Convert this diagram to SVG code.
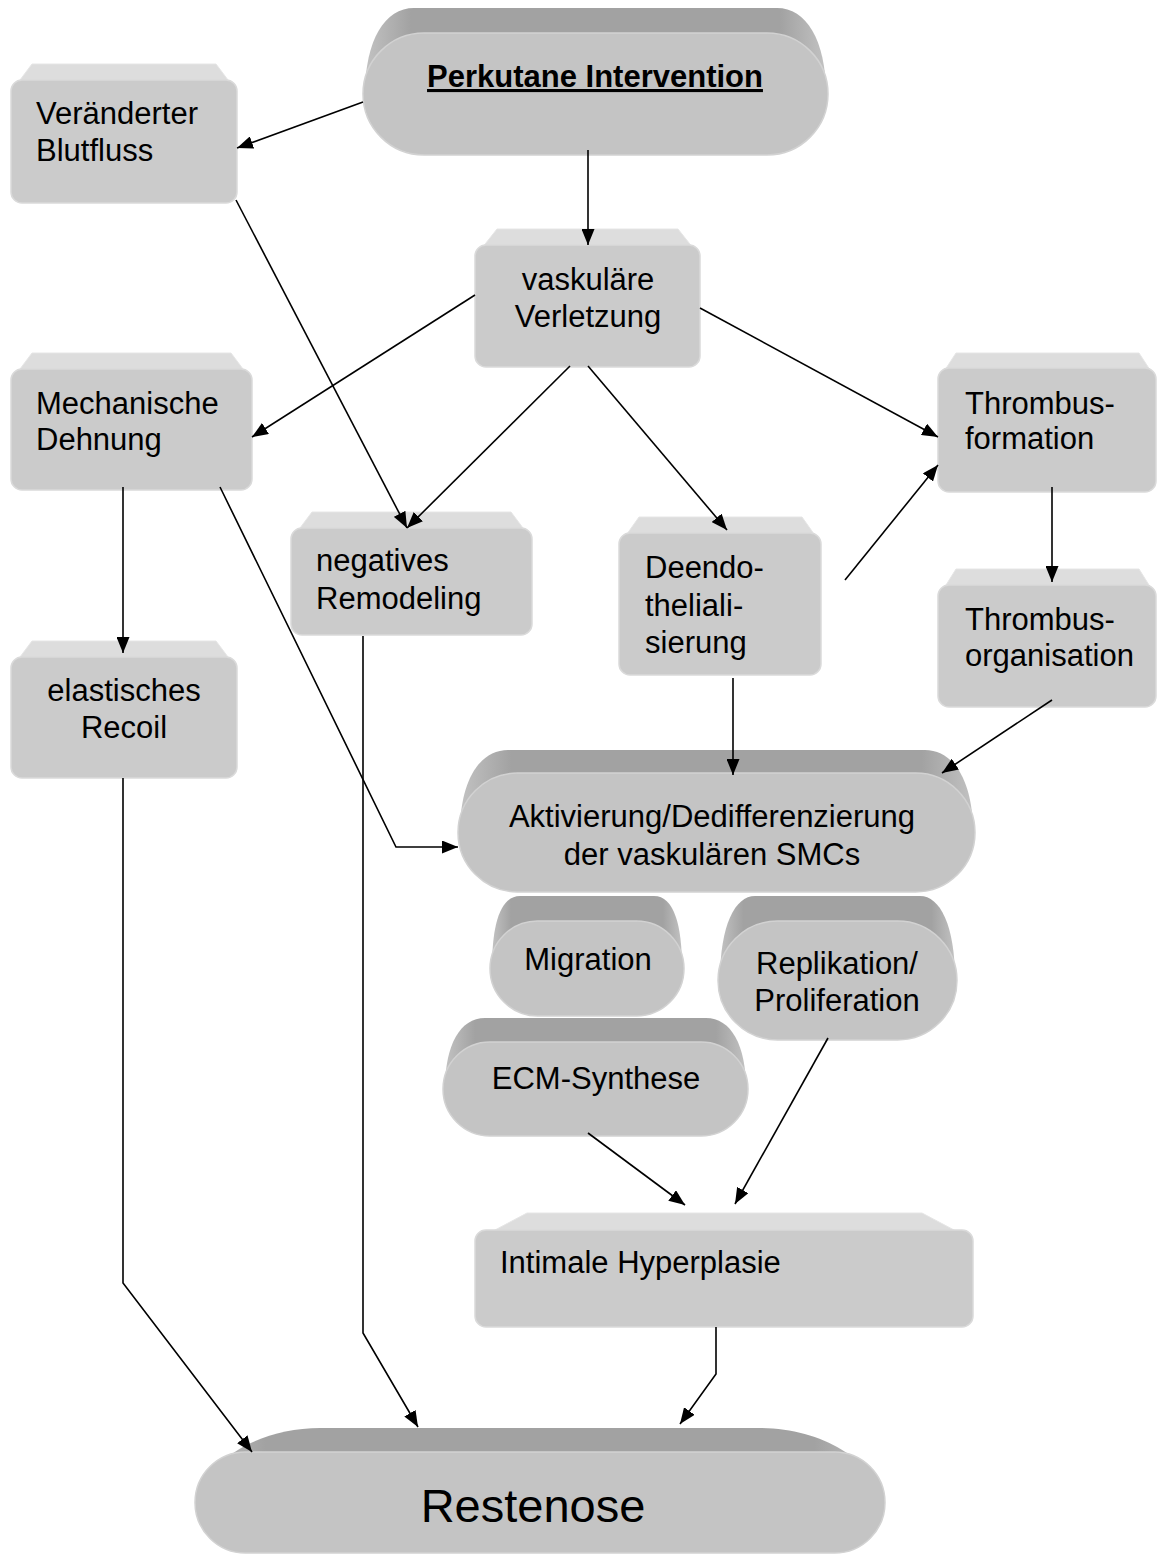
<svg xmlns="http://www.w3.org/2000/svg" width="1158" height="1556" viewBox="0 0 1158 1556">
<style>
.t{font-family:"Liberation Sans",Arial,sans-serif;font-size:31px;fill:#000}
.m{text-anchor:middle}
.big{font-size:47px}
.bev{fill:#dddddd;stroke:#e6e6e6;stroke-width:1}
.box{fill:#cbcbcb;stroke:#dadada;stroke-width:1.5}
.back{fill:url(#bg)}
.front{fill:#c4c4c4;stroke:#d2d2d2;stroke-width:1.5}
.c{fill:none;stroke:#000;stroke-width:1.6;marker-end:url(#ah)}
</style>
<defs>
<linearGradient id="bg" x1="0" y1="0" x2="1" y2="0">
<stop offset="0" stop-color="#c2c2c2"/>
<stop offset="0.1" stop-color="#a2a2a2"/>
<stop offset="0.9" stop-color="#a2a2a2"/>
<stop offset="1" stop-color="#c2c2c2"/>
</linearGradient>
<marker id="ah" markerWidth="16" markerHeight="13" refX="16" refY="6.5" orient="auto" markerUnits="userSpaceOnUse">
<path d="M0,0 L16,6.5 L0,13 z" fill="#000"/>
</marker>
</defs>
<rect width="1158" height="1556" fill="#fff"/>

<g id="perkutane">
<path class="back" d="M365,94 C365,40 385,8 414,8 L777,8 C806,8 826,40 826,94 Z"/>
<rect class="front" x="363" y="33" width="465" height="122" rx="61"/>
<text class="t m" x="595" y="87" font-weight="bold" text-decoration="underline">Perkutane Intervention</text>
</g>

<g id="blutfluss">
<path class="bev" d="M14,88 L32,64 L216,64 L234,88 Z"/>
<rect class="box" x="11" y="80" width="226" height="123" rx="11"/>
<text class="t" x="36" y="124">Veränderter</text>
<text class="t" x="36" y="161">Blutfluss</text>
</g>

<g id="verletzung">
<path class="bev" d="M478,253 L497,229 L678,229 L697,253 Z"/>
<rect class="box" x="475" y="245" width="225" height="122" rx="11"/>
<text class="t m" x="588" y="290">vaskuläre</text>
<text class="t m" x="588" y="327">Verletzung</text>
</g>

<g id="dehnung">
<path class="bev" d="M14,377 L32,353 L231,353 L249,377 Z"/>
<rect class="box" x="11" y="369" width="241" height="121" rx="11"/>
<text class="t" x="36" y="414">Mechanische</text>
<text class="t" x="36" y="450">Dehnung</text>
</g>

<g id="thrombusformation">
<path class="bev" d="M941,376 L956,353 L1139,353 L1154,376 Z"/>
<rect class="box" x="938" y="368" width="218" height="124" rx="11"/>
<text class="t" x="965" y="414">Thrombus-</text>
<text class="t" x="965" y="449">formation</text>
</g>

<g id="thrombusorganisation">
<path class="bev" d="M941,593 L956,569 L1139,569 L1154,593 Z"/>
<rect class="box" x="938" y="585" width="218" height="122" rx="11"/>
<text class="t" x="965" y="630">Thrombus-</text>
<text class="t" x="965" y="666">organisation</text>
</g>

<g id="remodeling">
<path class="bev" d="M294,536 L312,512 L511,512 L529,536 Z"/>
<rect class="box" x="291" y="528" width="241" height="107" rx="11"/>
<text class="t" x="316" y="571">negatives</text>
<text class="t" x="316" y="609">Remodeling</text>
</g>

<g id="deendothelialisierung">
<path class="bev" d="M622,541 L639,517 L802,517 L819,541 Z"/>
<rect class="box" x="619" y="533" width="202" height="142" rx="11"/>
<text class="t" x="645" y="578">Deendo-</text>
<text class="t" x="645" y="616">theliali-</text>
<text class="t" x="645" y="653">sierung</text>
</g>

<g id="recoil">
<path class="bev" d="M14,665 L32,641 L216,641 L234,665 Z"/>
<rect class="box" x="11" y="657" width="226" height="121" rx="11"/>
<text class="t m" x="124" y="701">elastisches</text>
<text class="t m" x="124" y="738">Recoil</text>
</g>

<g id="aktivierung">
<path class="back" d="M460,832 C460,780 480,750 508,750 L925,750 C953,750 973,780 973,832 Z"/>
<rect class="front" x="458" y="773" width="517" height="119" rx="59.5"/>
<text class="t m" x="712" y="827">Aktivierung/Dedifferenzierung</text>
<text class="t m" x="712" y="865">der vaskulären SMCs</text>
</g>

<g id="migration">
<path class="back" d="M492,968 C492,925 500,896 520,896 L654,896 C674,896 682,925 682,968 Z"/>
<rect class="front" x="490" y="921" width="194" height="95" rx="47.5"/>
<text class="t m" x="588" y="970">Migration</text>
</g>

<g id="replikation">
<path class="back" d="M720,980 C720,925 735,896 755,896 L920,896 C940,896 955,925 955,980 Z"/>
<rect class="front" x="718" y="921" width="239" height="119" rx="59.5"/>
<text class="t m" x="837" y="974">Replikation/</text>
<text class="t m" x="837" y="1011">Proliferation</text>
</g>

<g id="ecm">
<path class="back" d="M445,1089 C445,1045 460,1018 485,1018 L706,1018 C731,1018 746,1045 746,1089 Z"/>
<rect class="front" x="443" y="1042" width="305" height="94" rx="47"/>
<text class="t m" x="596" y="1089">ECM-Synthese</text>
</g>

<g id="hyperplasie">
<path class="bev" d="M478,1239 L527,1213 L922,1213 L971,1239 Z"/>
<rect class="box" x="475" y="1230" width="498" height="97" rx="11"/>
<text class="t" x="500" y="1273">Intimale Hyperplasie</text>
</g>

<g id="restenose">
<path class="back" d="M197,1502 C205,1460 260,1428 320,1428 L760,1428 C820,1428 875,1460 883,1502 Z"/>
<rect class="front" x="195" y="1452" width="690" height="101" rx="50.5"/>
<text class="t m big" x="533" y="1522">Restenose</text>
</g>

<g id="connectors">
<path class="c" d="M363,102 L237,148"/>
<path class="c" d="M588,150 L588,245"/>
<path class="c" d="M236,200 L407,528"/>
<path class="c" d="M475,295 L252,437"/>
<path class="c" d="M570,366 L407,528"/>
<path class="c" d="M588,366 L727,530"/>
<path class="c" d="M700,308 L938,437"/>
<path class="c" d="M845,580 L938,465"/>
<path class="c" d="M1052,487 L1052,582"/>
<path class="c" d="M1052,700 L942,773"/>
<path class="c" d="M733,678 L733,775"/>
<path class="c" d="M220,487 L396,847 L458,847"/>
<path class="c" d="M123,487 L123,653"/>
<path class="c" d="M363,636 L363,1333 L418,1427"/>
<path class="c" d="M123,778 L123,1283 L252,1452"/>
<path class="c" d="M588,1133 L685,1205"/>
<path class="c" d="M828,1038 L735,1204"/>
<path class="c" d="M716,1327 L716,1374 L680,1424"/>
</g>
</svg>
